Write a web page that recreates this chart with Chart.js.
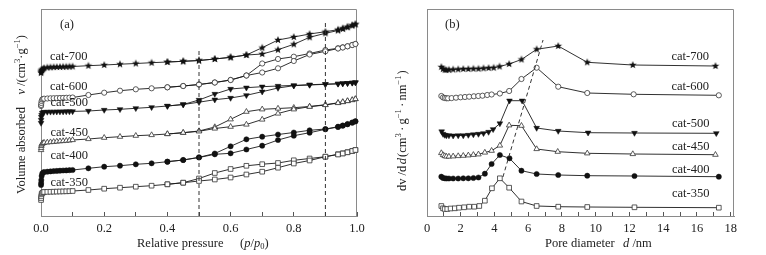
<!DOCTYPE html>
<html><head><meta charset="utf-8">
<script src="https://cdn.jsdelivr.net/npm/chart.js@4.4.1/dist/chart.umd.min.js"></script>
<style>
html,body{margin:0;padding:0;background:#fff;}
#wrap{position:relative;width:766px;height:255px;overflow:hidden;background:#fff;}
#ca{position:absolute;left:0;top:0;}
#cb{position:absolute;left:390px;top:0;}
</style></head><body>
<div id="wrap"><canvas id="ca" width="390" height="255"></canvas><canvas id="cb" width="376" height="255"></canvas></div>
<script>
// ---------- Panel (a): N2 isotherms (relative pressure vs volume, arbitrary offset units) ----------
const adsP = [0.0002,0.0005,0.001,0.002,0.004,0.007,0.01,0.02,0.03,0.04,0.05,0.06,0.07,0.08,0.09,0.1,0.15,0.2,0.25,0.3,0.35,0.4,0.45,0.5,0.55,0.6,0.65,0.7,0.75,0.8,0.85,0.9,0.94,0.955,0.97,0.985,0.995];
const desP = [0.995,0.985,0.97,0.955,0.94,0.9,0.85,0.8,0.75,0.7,0.65,0.6,0.55,0.5,0.45,0.4];

const ads700 = [143,144,145,146,146.5,147,148,148.5,148.7,148.9,149,149.1,149.2,149.3,149.4,149.5,150.3,151,151.8,152.5,153.3,154,154.7,155.5,157,158.7,161,162,166.3,171.7,178.7,182.7,185.5,187,188.7,190.5,191.7];
const des700 = [191.7,190.7,189.2,187.7,186.3,184.3,182,179,176,168.3,161,158.7,157,155.5,154.7,154];
const ads600 = [110,111,113,115,116.5,117,117.3,117.5,117.7,117.8,117.9,118,118.1,118.2,118.3,118.5,121,123.3,125.3,126.7,127.7,128.7,130,131.5,133.5,136,140.5,143.5,147.7,155,161.5,164.7,167.5,168.5,169.7,171,172];
const des600 = [172,171,169.7,168.7,167.7,166,162.5,159.3,157,152.5,140.5,136,133.5,131.5,130,128.7];
const ads500 = [93,96,99,101,103,103.5,104,104.1,104.2,104.2,104.3,104.4,104.4,104.5,104.5,104.6,105,106,106.7,107.7,108.7,110,111.5,113.8,116.3,118,120.7,124.3,128,130.3,131,131.7,132.2,132.5,132.8,133.2,133.5];
const des500 = [133.5,133.2,132.8,132.5,132.2,131.8,131.3,130.6,130,129.3,128.3,127,122,116,111.5,110];
const ads450 = [66,68,70,71.5,72.5,73,73.3,73.6,73.9,74.2,74.5,74.8,75,75.3,75.6,76,77,78.3,79.3,80.3,81,82,83.3,84.7,87.5,89.3,91.5,96.5,102.5,106.7,109.3,111,113,114,115,116,117];
const des450 = [117,116,115,114,113.2,111.3,109.5,108.3,107.5,106.7,104.3,96.7,89,85,83.3,82];
const ads400 = [31,33,36,40,42.5,43.5,44,44.3,44.6,44.9,45.1,45.3,45.5,45.6,45.8,46,47.7,49.3,50.3,51.7,52.7,54.3,56,58.5,61.7,62.7,66.5,70.3,76,80.3,83.3,86.7,89,90.3,91.7,93.3,94.7];
const des400 = [94.7,93.5,92,90.5,89.3,87,85.7,83.5,81.5,79.3,76.7,69.7,62.5,58.7,56,54.3];
const ads350 = [16,18,20,22,23,23.7,24,24.1,24.2,24.3,24.4,24.5,24.6,24.7,24.8,25,26,27.3,28.3,29.3,30.3,31.7,33.3,35,36.5,38.5,41.5,44.3,48.3,52.5,55.5,59.3,61.5,62.5,63.7,65,66];
const des350 = [66,65,63.8,62.7,61.8,59.3,57.5,55.7,53,51.8,50.2,47,43,37.5,33.3,31.7];

const refLineA1X = [0.5, 0.5], refLineA1Y = [0, 166];
const refLineA2X = [0.9, 0.9], refLineA2Y = [0, 193];

// ---------- Panel (b): pore size distributions ----------
const d700 = [0.85,0.95,1.05,1.15,1.3,1.55,1.85,2.15,2.45,2.75,3.05,3.35,3.65,3.95,4.3,4.87,5.6,6.5,7.78,9.5,12.2,17.1];
const v700 = [149,147,146.3,146,146.2,146.5,146.7,147,147,147.3,147.3,147.7,148,148.3,149.5,152,156.5,166.7,170,153.7,151,150];
const d600 = [0.85,0.95,1.05,1.15,1.25,1.46,1.72,1.99,2.25,2.5,2.78,3.04,3.29,3.57,3.83,4.32,4.87,5.6,6.5,7.78,9.5,12.25,17.3];
const v600 = [120,118.5,118,117.7,117.7,117.9,118.3,118.7,119,119.3,119.7,120,120.3,121,121.5,122.5,125,137,148.3,129.3,123,121.7,120.7];
const d500 = [0.87,0.95,1.05,1.15,1.3,1.55,1.85,2.15,2.45,2.75,3.05,3.35,3.65,3.92,4.32,4.89,5.64,6.5,7.78,9.55,12.3,17.15];
const v500 = [84.5,82,81,80.5,80.5,80.3,80.5,80.5,81,81.5,82,82.7,84,86.7,92.5,115.3,115.3,88,85,83.3,83,82.7];
const d450 = [0.85,0.95,1.05,1.15,1.3,1.55,1.85,2.15,2.45,2.75,3.05,3.43,3.83,4.32,4.87,5.6,6.5,7.75,9.5,12.2,17.1];
const v450 = [63,61,60,59.5,59.5,59.7,60,60.3,60.7,61.2,61.7,63.5,65.3,70.5,90.7,90.3,67,64.3,62.7,62,61.3];
const d400 = [0.85,0.95,1.05,1.15,1.3,1.55,1.85,2.15,2.45,2.75,3.05,3.43,3.83,4.32,4.89,5.6,6.5,7.78,9.5,12.3,17.3];
const v400 = [39.3,38,37.7,37.5,37.5,37.5,37.5,37.7,37.7,38,38.5,42.3,52,61,57.7,45.3,42,41,40.3,40,39.3];
const d350 = [0.85,0.95,1.05,1.2,1.4,1.65,1.9,2.2,2.5,2.8,3.1,3.43,3.85,4.32,4.87,5.6,6.5,7.78,9.5,12.3,17.3];
const v350 = [10,7.7,7,7,7.5,7.7,8.3,8.7,9.3,9.3,10,15.3,27.7,37.7,28.3,14.5,10,9.3,9,8.7,8.3];
const refLineBX = [4.5, 6.88], refLineBY = [39, 176];

const seriesNames = ['cat-700','cat-600','cat-500','cat-450','cat-400','cat-350'];
const xTickLabelsA = ['0.0','0.2','0.4','0.6','0.8','1.0'];
const xTickLabelsB = ['0','2','4','6','8','10','12','14','16','18'];

// ---------- helpers ----------
const SERIF = '"Liberation Serif","Times New Roman",serif';
const FS = 12.5, SUP = 8.5;
Chart.defaults.font.family = SERIF;
Chart.defaults.font.size = FS;
Chart.defaults.color = '#222';
const LINE = '#1a1a1a', EDGE = '#333', FRAME = '#8a8a8a';

function pts(xs, ys){ return xs.map((x,i)=>({x:x, y:ys[i]})); }
function starImg(r){
  const s = Math.ceil(r*2)+2; const c = document.createElement('canvas'); c.width=s; c.height=s;
  const g = c.getContext('2d'); g.translate(s/2, s/2); g.beginPath();
  for(let i=0;i<10;i++){ const rr = (i%2)? r*0.42 : r; const a = -Math.PI/2 + i*Math.PI/5; g.lineTo(rr*Math.cos(a), rr*Math.sin(a)); }
  g.closePath(); g.fillStyle='#111'; g.fill(); return c;
}
const STAR = starImg(4);
const marker = {
  'cat-700': {pointStyle: STAR, pointRadius: 4, pointBackgroundColor:'#111', pointBorderColor:'#111', pointBorderWidth:0},
  'cat-600': {pointStyle: 'circle', pointRadius: 2.6, pointBackgroundColor:'#fff', pointBorderColor:EDGE, pointBorderWidth:0.8},
  'cat-500': {pointStyle: 'triangle', pointRotation: 180, pointRadius: 3.3, pointBackgroundColor:'#111', pointBorderColor:'#111', pointBorderWidth:0.5},
  'cat-450': {pointStyle: 'triangle', pointRadius: 3.2, pointBackgroundColor:'#fff', pointBorderColor:EDGE, pointBorderWidth:0.8},
  'cat-400': {pointStyle: 'circle', pointRadius: 2.6, pointBackgroundColor:'#111', pointBorderColor:'#111', pointBorderWidth:0.5},
  'cat-350': {pointStyle: 'rect', pointRadius: 3.3, pointBackgroundColor:'#fff', pointBorderColor:EDGE, pointBorderWidth:0.8}
};
function series(label, xs, ys){
  return Object.assign({label: label, data: pts(xs, ys), borderColor: LINE, borderWidth: 0.9, tension: 0, clip: false, fill: false}, marker[label]);
}
function refLine(xs, ys){
  return {label:'ref', data: pts(xs, ys), borderColor:'#333', borderWidth:1, borderDash:[4,3], pointRadius:0, clip:false, fill:false};
}

// rich text drawing (mixed italic / super/subscript)
function drawRich(ctx, segs, x, y, rot){
  ctx.save(); ctx.translate(x, y); if (rot) ctx.rotate(-Math.PI/2);
  ctx.textBaseline = 'middle'; ctx.textAlign = 'left'; ctx.fillStyle = '#222';
  let cx = 0;
  for (const s of segs){
    if (typeof s.at === 'number') cx = s.at;
    ctx.font = (s.it ? 'italic ' : '') + (s.size || FS) + 'px ' + SERIF;
    ctx.fillText(s.t, cx, s.dy || 0);
    cx += ctx.measureText(s.t).width + (s.gap || 0);
  }
  ctx.restore();
}
const annotations = {
  ca: {
    labels:[
      {t:'(a)', x:60, y:25},
      {t:seriesNames[0], x:50, y:57}, {t:seriesNames[1], x:50, y:87}, {t:seriesNames[2], x:50.5, y:103},
      {t:seriesNames[3], x:50.5, y:133}, {t:seriesNames[4], x:50.5, y:156}, {t:seriesNames[5], x:50.5, y:183}
    ],
    rich:[
      {x:137, y:244, rot:false, segs:[{t:'Relative pressure'},{t:'(', at:103},{t:'p',it:true},{t:'/'},{t:'p',it:true},{t:'0',size:SUP,dy:3},{t:')'}]},
      {x:22, y:194, rot:true, segs:[{t:'Volume absorbed'},{t:'    '},{t:'v',it:true},{t:' /(cm'},{t:'3',size:SUP,dy:-4},{t:'·g'},{t:'−1',size:SUP,dy:-4},{t:')'}]}
    ]
  },
  cb: {
    labels:[
      {t:'(b)', x:55, y:25},
      {t:seriesNames[0], x:281.5, y:57}, {t:seriesNames[1], x:281.5, y:87}, {t:seriesNames[2], x:282, y:124},
      {t:seriesNames[3], x:282, y:147}, {t:seriesNames[4], x:282, y:170}, {t:seriesNames[5], x:282, y:194}
    ],
    rich:[
      {x:155, y:244, rot:false, segs:[{t:'Pore diameter'},{t:'d', it:true, at:78},{t:' /nm'}]},
      {x:13, y:191, rot:true, segs:[{t:'dv /d', gap:1.5},{t:'d',it:true, gap:1},{t:'(cm'},{t:'3',size:SUP,dy:-4, gap:2.5},{t:'·', gap:2},{t:'g'},{t:'−1',size:SUP,dy:-4, gap:2.5},{t:'·', gap:2},{t:'nm'},{t:'−1',size:SUP,dy:-4, gap:1},{t:')'}]}
    ]
  }
};
const textPlugin = {
  id: 'textPlugin',
  beforeDatasetsDraw(chart){
    const a = chart.chartArea, ctx = chart.ctx;
    ctx.save(); ctx.strokeStyle = FRAME; ctx.lineWidth = 1;
    ctx.beginPath();
    ctx.moveTo(Math.round(a.left)+0.5, Math.round(a.top)+0.5);
    ctx.lineTo(Math.round(a.right)-0.5, Math.round(a.top)+0.5);
    ctx.lineTo(Math.round(a.right)-0.5, Math.round(a.bottom)+0.5);
    ctx.stroke(); ctx.restore();
  },
  afterDraw(chart){
    const ctx = chart.ctx, cfg = annotations[chart.canvas.id];
    cfg.labels.forEach(l => drawRich(ctx, [{t:l.t}], l.x, l.y, false));
    cfg.rich.forEach(r => drawRich(ctx, r.segs, r.x, r.y, r.rot));
  }
};

function xScale(min, max, step, labels){
  return {
    type:'linear', min:min, max:max,
    afterFit(s){ s.height = 39; },
    afterBuildTicks(s){ s.ticks = []; for (let v=min; v<=max+1e-9; v+=step) s.ticks.push({value: Math.round(v*1000)/1000}); },
    ticks:{ autoSkip:false, maxRotation:0, padding: 9, color:'#222', font:{size:FS},
      callback(v){ const k = Math.round(v/(step*2)*1000)/1000; if (Math.abs(k-Math.round(k))>1e-6) return ''; return labels[Math.round(k)] !== undefined ? labels[Math.round(k)] : ''; } },
    grid:{ display:true, drawOnChartArea:false, drawTicks:true, tickLength:-4, color:'#555', tickColor:'#555', lineWidth:1 },
    border:{ display:true, color: FRAME, width:1 }
  };
}
function yScale(width){
  return { type:'linear', min:0, max:207, afterFit(s){ s.width = width; },
    ticks:{display:false}, grid:{display:false}, border:{display:true, color: FRAME, width:1} };
}

// ---------- Chart (a) ----------
const dsA = [
  refLine(refLineA1X, refLineA1Y), refLine(refLineA2X, refLineA2Y),
  series('cat-700', adsP, ads700), series('cat-700', desP, des700),
  series('cat-600', adsP, ads600), series('cat-600', desP, des600),
  series('cat-500', adsP, ads500), series('cat-500', desP, des500),
  series('cat-450', adsP, ads450), series('cat-450', desP, des450),
  series('cat-400', adsP, ads400), series('cat-400', desP, des400),
  series('cat-350', adsP, ads350), series('cat-350', desP, des350)
];
new Chart(document.getElementById('ca'), {
  type:'line',
  data:{ datasets: dsA },
  options:{
    responsive:false, animation:false, devicePixelRatio:1,
    layout:{ padding:{left:0, right:33, top:9, bottom:0} },
    scales:{ x: xScale(0, 1, 0.1, xTickLabelsA), y: yScale(41) },
    plugins:{ legend:{display:false}, tooltip:{enabled:false} }
  },
  plugins:[textPlugin]
});

// ---------- Chart (b) ----------
const dsB = [
  refLine(refLineBX, refLineBY),
  series('cat-700', d700, v700), series('cat-600', d600, v600), series('cat-500', d500, v500),
  series('cat-450', d450, v450), series('cat-400', d400, v400), series('cat-350', d350, v350)
];
new Chart(document.getElementById('cb'), {
  type:'line',
  data:{ datasets: dsB },
  options:{
    responsive:false, animation:false, devicePixelRatio:1,
    layout:{ padding:{left:0, right:32, top:9, bottom:0} },
    scales:{ x: xScale(0, 18.2, 1, xTickLabelsB), y: yScale(37) },
    plugins:{ legend:{display:false}, tooltip:{enabled:false} }
  },
  plugins:[textPlugin]
});
</script>
</body></html>
